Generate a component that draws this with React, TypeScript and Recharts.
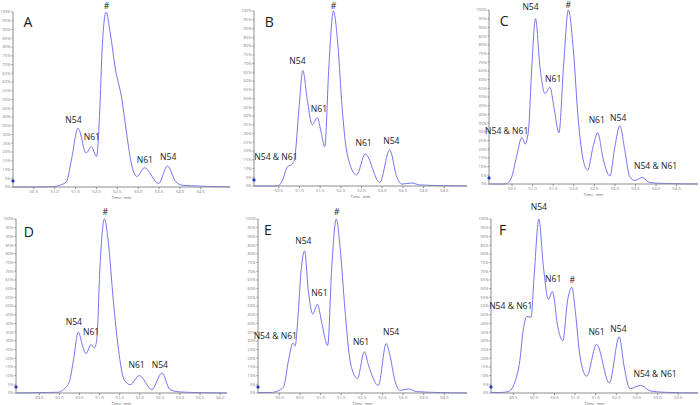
import { LineChart, Line, XAxis, YAxis, ReferenceDot } from 'recharts'

// retention time (min) and relative intensity (%) per panel
const timeA = [50.0, 50.6, 51.0, 51.12, 51.28, 51.4, 51.56, 51.75, 51.88, 52.0, 52.09, 52.13, 52.23, 52.33, 52.45, 52.61, 52.72, 52.85, 52.97, 53.15, 53.49, 53.7, 53.9, 54.06, 54.5, 55.2]
const intA = [0, 0, 0.3, 1, 3, 15.6, 33.6, 19.4, 23, 17.5, 50, 76, 100, 88, 68, 50, 31, 12, 6, 11, 2, 12, 3, 1, 0.5, 0]

const timeB = [49.9, 50.4, 50.5, 50.59, 50.71, 50.83, 50.89, 50.99, 51.08, 51.19, 51.31, 51.43, 51.53, 51.61, 51.71, 51.82, 51.93, 52.03, 52.15, 52.38, 52.59, 52.94, 53.18, 53.35, 53.47, 53.71, 53.91, 54.5, 55.05]
const intB = [0, 0, 0.3, 3.4, 11, 12.6, 17, 45, 66, 49, 35, 39, 30, 22.5, 68, 100, 80, 45, 18.7, 6.3, 18.3, 2, 20.6, 5.3, 1.1, 1.7, 0.6, 0.2, 0]

const timeC = [49.94, 50.3, 50.37, 50.49, 50.61, 50.74, 50.82, 50.9, 50.98, 51.07, 51.18, 51.3, 51.42, 51.53, 51.64, 51.75, 51.87, 51.99, 52.11, 52.23, 52.34, 52.47, 52.58, 52.72, 52.88, 53.0, 53.12, 53.24, 53.36, 53.49, 53.66, 53.85, 54.21, 55.02]
const intC = [0, 0, 0.3, 4, 15.7, 26.8, 23, 31, 67, 95, 67, 52, 55.6, 42.5, 29.5, 67, 100, 77, 36.8, 13.8, 8, 21.5, 29.5, 13.8, 4.6, 21.5, 33.5, 19.5, 4.2, 2, 3.8, 0.8, 0.3, 0]

const timeD = [48.92, 49.68, 49.97, 50.1, 50.25, 50.35, 50.47, 50.58, 50.66, 50.79, 50.87, 50.93, 51.01, 51.12, 51.22, 51.34, 51.47, 51.61, 51.76, 51.99, 52.3, 52.55, 52.75, 53.0, 53.5, 54.17]
const intD = [0, 0.3, 0.4, 2, 6.7, 19, 35, 26.8, 22.6, 27.8, 25.9, 30.6, 72.8, 100, 86, 53.6, 25, 7.7, 4.8, 10, 2, 11.5, 2, 0.6, 0.2, 0]

const timeE = [49.48, 49.8, 49.94, 50.1, 50.22, 50.33, 50.38, 50.45, 50.52, 50.61, 50.7, 50.81, 50.92, 51.03, 51.17, 51.27, 51.38, 51.47, 51.59, 51.7, 51.8, 51.89, 52.06, 52.16, 52.4, 52.59, 52.67, 52.81, 52.93, 53.13, 53.33, 53.82, 54.55]
const intE = [0.3, 0.3, 1, 3.5, 18.8, 28.8, 27, 43.8, 68.8, 81.7, 59, 45.4, 51, 40, 27.3, 72.7, 100, 84, 47.7, 20.8, 11, 8.3, 23.7, 16, 4.4, 28.5, 22.7, 6.3, 1.5, 2.3, 0.8, 0.3, 0]

const timeF = [48.96, 49.2, 49.38, 49.54, 49.66, 49.74, 49.83, 49.93, 50.01, 50.12, 50.23, 50.35, 50.45, 50.58, 50.7, 50.82, 50.92, 51.01, 51.12, 51.28, 51.52, 51.83, 52.07, 52.19, 52.33, 52.59, 52.82, 53.18, 53.98]
const intF = [0.3, 0.3, 0.8, 6.3, 18.8, 36, 44, 43.5, 68.8, 100, 72.7, 53.8, 58.3, 38, 30, 53.5, 60.8, 45.8, 20.8, 9.6, 27.9, 5.8, 32.3, 15, 2.5, 4.4, 1.2, 0.4, 0]

// x-axis tick labels
const ticksA = [50.5, 51.0, 51.5, 52.0, 52.5, 53.0, 53.5, 54.0, 54.5]
const ticksD = [49.5, 50.0, 50.5, 51.0, 51.5, 52.0, 52.5, 53.0, 53.5, 54.0]
const ticksE = [50.0, 50.5, 51.0, 51.5, 52.0, 52.5, 53.0, 53.5, 54.0]
const ticksF = [49.5, 50.0, 50.5, 51.0, 51.5, 52.0, 52.5, 53.0, 53.5]
const pctTicks = [0, 5, 10, 15, 20, 25, 30, 35, 40, 45, 50, 55, 60, 65, 70, 75, 80, 85, 90, 95, 100]

// peak annotations: [time, intensity, text]
const notesA = [[52.24, 103.5, '#'], [51.45, 38.3, 'N54'], [51.89, 28.4, 'N61'], [53.16, 15.4, 'N61'], [53.72, 17.3, 'N54']]
const notesB = [[51.82, 103, '#'], [50.95, 71.6, 'N54'], [51.47, 43.8, 'N61'], [50.43, 16.7, 'N54 & N61'], [52.55, 24.7, 'N61'], [53.22, 25.9, 'N54']]
const notesC = [[51.87, 102.6, '#'], [50.95, 101.5, 'N54'], [51.5, 60.3, 'N61'], [50.37, 30.6, 'N54 & N61'], [52.56, 36.8, 'N61'], [53.08, 37.8, 'N54'], [53.99, 10.5, 'N54 & N61']]
const notesD = [[51.14, 103.8, '#'], [50.36, 40.8, 'N54'], [50.79, 34.8, 'N61'], [51.92, 15.9, 'N61'], [52.5, 15.9, 'N54']]
const notesE = [[51.39, 104.2, '#'], [50.58, 87.4, 'N54'], [50.97, 57.3, 'N61'], [49.9, 32.7, 'N54 & N61'], [51.98, 29.4, 'N61'], [52.71, 34.8, 'N54']]
const notesF = [[50.12, 106.9, 'N54'], [50.47, 65.6, 'N61'], [50.93, 65, '#'], [49.44, 50, 'N54 & N61'], [51.52, 35.2, 'N61'], [52.05, 36.7, 'N54'], [52.94, 10.8, 'N54 & N61']]

const BLUE = '#7474f4'
const FONT = '"Open Sans", "Liberation Sans", sans-serif'

const zip = (t: number[], v: number[]) => t.map((x, i) => ({ t: x, v: v[i] }))

const Note = (text: string, size: number) => (p: any) => (
  <text x={p.cx} y={p.cy} textAnchor="middle" dominantBaseline="central" fontSize={size} fontFamily={FONT} fill="#1a1a1a">
    {text}
  </text>
)

function Panel({ box, times, values, ticks, notes, letter, letterAt }: any) {
  const yw = 13
  const mt = Math.min(22, box.y100)
  const xb = 12
  const width = box.x1 - box.x0 + yw + 2
  const height = box.y0 - box.y100 + mt + xb
  const data = zip(times, values)
  const domain = [times[0], times[times.length - 1]]
  return (
    <div style={{ position: 'absolute', left: box.x0 - yw, top: box.y100 - mt }}>
      <LineChart width={width} height={height} data={data} margin={{ top: mt, right: 2, left: 0, bottom: 0 }} style={{ overflow: 'visible' }}>
        <XAxis
          dataKey="t"
          type="number"
          domain={domain}
          allowDataOverflow
          ticks={ticks}
          interval={0}
          height={xb}
          tickSize={2}
          tickMargin={1}
          tick={{ fontSize: 4.3, fill: '#777', fontFamily: FONT }}
          tickFormatter={(v: number) => v.toFixed(1)}
          stroke="#8c8c8c"
          label={{ value: 'Time, min', position: 'insideBottom', offset: 0, fontSize: 4.3, fill: '#666', fontFamily: FONT }}
        />
        <YAxis
          type="number"
          domain={[0, 100]}
          ticks={pctTicks}
          interval={0}
          width={yw}
          tickSize={1.5}
          tickMargin={1}
          tick={{ fontSize: 4, fill: '#777', fontFamily: FONT }}
          tickFormatter={(v: number) => v + '%'}
          stroke="#8c8c8c"
        />
        <Line dataKey="v" type="monotone" stroke={BLUE} strokeWidth={1} dot={false} isAnimationActive={false} />
        <ReferenceDot x={times[0]} y={3.5} r={1.6} fill="#2233bb" stroke="none" ifOverflow="visible" />
        <ReferenceDot x={letterAt[0]} y={letterAt[1]} ifOverflow="visible" shape={Note(letter, 14)} />
        {notes.map((n: any, i: number) => (
          <ReferenceDot key={i} x={n[0]} y={n[1]} ifOverflow="visible" shape={Note(n[2], 8.6)} />
        ))}
      </LineChart>
    </div>
  )
}

export default function App() {
  return (
    <div style={{ position: 'absolute', left: 0, top: 0, width: 700, height: 405, background: '#fff' }}>
      <Panel box={{ x0: 13, x1: 230, y100: 12, y0: 187 }} times={timeA} values={intA} ticks={ticksA} notes={notesA} letter="A" letterAt={[50.36, 94.5]} />
      <Panel box={{ x0: 254, x1: 467, y100: 11, y0: 186 }} times={timeB} values={intB} ticks={ticksA} notes={notesB} letter="B" letterAt={[50.27, 93.9]} />
      <Panel box={{ x0: 489, x1: 698, y100: 10, y0: 184 }} times={timeC} values={intC} ticks={ticksA} notes={notesC} letter="C" letterAt={[50.31, 93.9]} />
      <Panel box={{ x0: 16, x1: 227, y100: 219, y0: 393 }} times={timeD} values={intD} ticks={ticksD} notes={notesD} letter="D" letterAt={[49.24, 92.9]} />
      <Panel box={{ x0: 258, x1: 467, y100: 219, y0: 393 }} times={timeE} values={intE} ticks={ticksE} notes={notesE} letter="E" letterAt={[49.72, 94.2]} />
      <Panel box={{ x0: 491, x1: 698, y100: 219, y0: 393 }} times={timeF} values={intF} ticks={ticksF} notes={notesF} letter="F" letterAt={[49.24, 93.8]} />
    </div>
  )
}
